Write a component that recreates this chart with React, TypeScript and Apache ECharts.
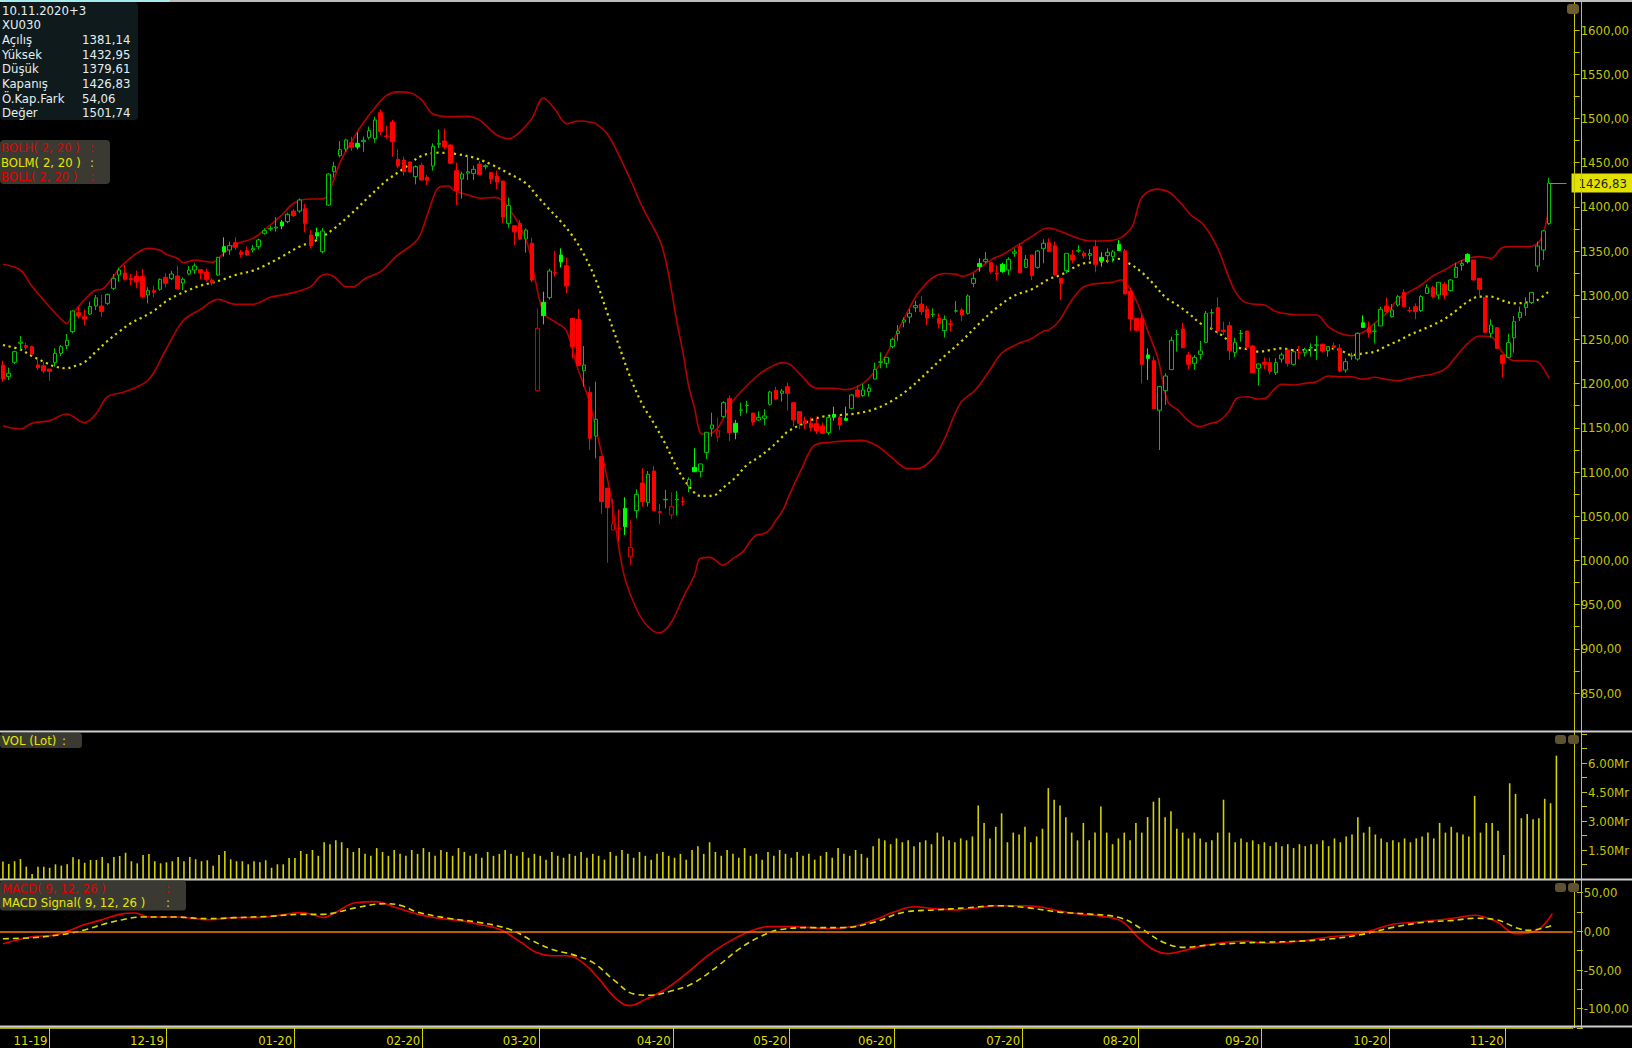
import React, { useEffect, useRef } from 'react';
import * as echarts from 'echarts';

// ---------- DATA ----------
const opens = [
1221.0,1207.9,1224.1,1245.5,1243.0,1241.8,1221.1,1220.3,1216.5,1223.7,
1234.3,1242.9,1258.8,1280.3,1275.7,1278.7,1287.8,1287.8,1290.8,1307.8,
1322.9,1325.1,1319.0,1321.4,1321.4,1300.2,1305.1,1306.7,1320.2,1319.1,
1321.7,1313.8,1324.0,1328.5,1328.9,1326.3,1317.2,1322.9,1354.9,1351.1,
1359.4,1348.5,1350.4,1351.1,1354.9,1370.0,1374.8,1376.0,1382.8,1383.2,
1395.2,1395.2,1397.9,1368.1,1370.7,1349.2,1402.0,1439.7,1457.8,1465.4,
1472.5,1471.8,1473.7,1478.6,1477.1,1506.5,1480.0,1495.9,1453.7,1452.9,
1450.7,1434.1,1446.9,1433.3,1446.1,1470.7,1474.4,1469.9,1440.9,1431.4,
1438.2,1437.8,1448.4,1445.4,1438.6,1434.8,1429.2,1381.3,1378.6,1381.3,
1363.6,1358.7,1192.0,1291.9,1297.2,1325.5,1345.5,1333.4,1273.8,1272.7,
1214.6,1190.1,1140.7,1117.4,1081.5,1034.4,1036.7,1058.9,1004.2,1056.3,
1087.6,1065.7,1101.1,1055.0,1068.6,1051.4,1068.6,1066.6,1084.2,1105.3,
1100.4,1121.9,1149.0,1140.0,1162.6,1183.0,1155.1,1170.0,1175.2,1166.7,
1158.8,1160.7,1176.6,1192.4,1189.0,1196.5,1178.4,1168.3,1158.1,1155.1,
1154.7,1152.0,1144.5,1165.2,1161.9,1160.7,1172.0,1192.8,1186.4,1190.9,
1205.2,1224.0,1222.9,1241.8,1256.5,1269.7,1275.3,1285.9,1290.0,1284.4,
1278.2,1273.8,1259.9,1267.5,1282.0,1283.3,1279.5,1313.4,1336.0,1337.9,
1336.8,1325.1,1334.9,1328.5,1347.4,1354.9,1331.5,1345.5,1331.5,1353.0,
1359.4,1356.0,1319.1,1327.8,1345.5,1350.0,1347.7,1345.1,1354.9,1342.8,
1344.7,1343.6,1357.5,1350.0,1304.7,1273.8,1273.8,1232.4,1225.9,1169.8,
1192.0,1215.8,1255.5,1261.8,1232.4,1222.9,1233.1,1246.7,1280.0,1285.9,
1260.6,1265.5,1235.0,1256.5,1259.5,1242.5,1217.3,1224.1,1223.7,1212.4,
1227.8,1238.0,1221.8,1235.6,1235.0,1240.4,1243.4,1244.4,1237.3,1242.9,
1239.9,1215.4,1231.4,1227.8,1268.9,1262.5,1259.1,1265.2,1287.8,1275.7,
1288.9,1303.2,1282.9,1287.0,1282.5,1302.1,1308.5,1300.2,1312.3,1305.1,
1320.2,1333.8,1346.2,1339.8,1319.1,1297.2,1256.9,1263.3,1232.4,1229.7,
1251.9,1274.6,1285.9,1291.9,1333.0,1351.1,1381.14
];
const highs = [
1226.0,1218.0,1237.3,1253.9,1246.3,1243.0,1227.5,1224.8,1216.5,1239.9,
1243.7,1256.1,1283.0,1287.1,1284.0,1292.7,1300.3,1300.3,1302.0,1324.0,
1331.2,1334.2,1324.0,1327.8,1329.7,1308.9,1310.8,1319.0,1324.8,1327.4,
1333.0,1320.2,1333.0,1336.1,1328.9,1330.0,1319.1,1343.5,1365.5,1360.6,
1365.5,1351.1,1354.9,1356.8,1364.0,1375.7,1378.3,1388.1,1385.0,1393.3,
1397.6,1409.5,1403.2,1373.7,1376.4,1376.0,1438.0,1451.0,1474.4,1477.0,
1479.3,1484.2,1479.3,1490.6,1502.0,1510.2,1491.8,1498.2,1465.0,1456.7,
1451.0,1446.9,1449.9,1436.0,1471.8,1487.6,1488.4,1470.5,1449.9,1439.7,
1458.6,1446.5,1451.8,1448.0,1438.6,1440.9,1429.2,1410.3,1378.6,1385.0,
1375.6,1365.0,1285.1,1304.0,1330.0,1350.0,1353.0,1342.8,1273.8,1284.4,
1242.5,1196.5,1202.2,1117.4,1081.5,1069.8,1057.8,1071.4,1045.7,1080.4,
1104.2,1101.1,1106.8,1063.8,1079.7,1077.0,1078.5,1072.1,1094.0,1126.8,
1109.1,1144.9,1167.1,1161.9,1180.0,1186.7,1158.9,1178.4,1180.7,1166.7,
1168.6,1170.9,1192.0,1196.5,1193.9,1201.0,1178.4,1168.3,1162.6,1161.9,
1162.6,1155.8,1163.4,1173.9,1163.7,1173.9,1188.0,1198.4,1199.6,1199.6,
1223.7,1235.4,1229.7,1252.0,1266.3,1275.0,1284.4,1293.8,1299.1,1288.2,
1285.2,1279.5,1277.2,1272.7,1293.4,1285.9,1301.0,1324.7,1341.7,1348.9,
1336.8,1334.2,1336.8,1342.8,1353.0,1358.7,1345.5,1345.5,1351.0,1363.2,
1364.3,1360.6,1319.1,1347.4,1351.1,1356.8,1350.0,1352.3,1362.5,1348.5,
1353.0,1351.1,1362.5,1352.3,1308.5,1273.8,1277.6,1239.9,1230.5,1196.9,
1211.6,1253.1,1260.6,1268.9,1236.1,1232.4,1248.2,1282.1,1284.4,1297.6,
1270.1,1270.1,1252.0,1260.6,1259.5,1243.7,1222.9,1229.7,1229.3,1228.6,
1235.0,1239.9,1239.1,1242.5,1240.6,1245.5,1254.2,1245.6,1241.8,1246.3,
1244.8,1228.6,1235.0,1258.0,1277.2,1270.1,1268.2,1287.0,1297.6,1290.0,
1300.0,1307.0,1287.0,1290.8,1300.0,1312.3,1310.4,1314.6,1314.6,1318.0,
1336.8,1339.8,1347.4,1339.8,1319.1,1297.2,1272.7,1263.3,1232.4,1256.1,
1276.5,1287.0,1297.6,1303.2,1360.6,1373.7,1432.95
];
const lows = [
1202.0,1204.1,1222.2,1238.0,1238.0,1232.0,1215.4,1211.6,1203.3,1219.2,
1231.2,1238.8,1257.0,1273.8,1265.6,1277.6,1283.3,1275.7,1289.0,1305.9,
1315.3,1316.5,1311.2,1307.8,1296.5,1290.8,1297.6,1305.0,1308.9,1317.2,
1307.0,1305.9,1322.9,1324.0,1318.0,1315.3,1310.8,1322.0,1343.6,1345.5,
1351.1,1342.5,1344.4,1348.1,1352.0,1368.5,1372.6,1371.9,1374.5,1381.3,
1388.5,1393.3,1371.1,1353.0,1363.2,1347.3,1401.0,1433.3,1455.9,1462.0,
1463.1,1465.0,1462.4,1476.3,1472.5,1481.2,1477.1,1456.7,1443.5,1435.2,
1438.6,1425.4,1429.5,1424.6,1440.9,1466.1,1465.4,1448.4,1402.0,1409.2,
1430.3,1430.3,1436.0,1442.4,1425.8,1419.7,1381.3,1376.4,1356.8,1362.4,
1348.1,1315.0,1192.0,1267.0,1295.0,1321.0,1331.2,1302.1,1228.6,1220.3,
1196.5,1124.9,1115.5,1052.5,997.4,1034.4,1021.2,1028.7,994.8,1047.6,
1060.8,1060.8,1056.3,1040.8,1058.9,1046.5,1051.0,1061.5,1077.0,1100.4,
1094.0,1114.3,1140.0,1134.3,1161.0,1135.1,1137.0,1163.4,1166.4,1152.8,
1158.0,1153.2,1175.0,1181.4,1179.6,1169.4,1151.3,1148.3,1148.3,1146.4,
1143.0,1143.0,1141.9,1158.1,1147.5,1158.1,1171.0,1185.2,1185.2,1185.2,
1204.8,1217.3,1218.0,1240.0,1248.2,1263.7,1268.2,1280.6,1277.6,1266.3,
1275.0,1262.5,1252.3,1258.8,1280.3,1270.8,1278.0,1308.9,1326.6,1336.1,
1324.7,1316.4,1325.5,1322.9,1343.6,1325.5,1331.5,1317.2,1330.0,1336.1,
1349.2,1322.9,1294.6,1324.7,1336.1,1348.1,1341.7,1339.8,1325.9,1332.3,
1336.1,1337.2,1350.0,1301.4,1259.5,1258.8,1200.3,1204.1,1171.7,1124.9,
1175.8,1215.8,1236.1,1240.6,1216.5,1215.4,1227.4,1246.7,1261.4,1255.7,
1255.0,1226.7,1229.7,1247.4,1239.1,1212.4,1197.7,1216.5,1210.5,1209.7,
1223.7,1219.2,1220.3,1227.8,1230.5,1230.5,1226.7,1235.0,1230.5,1238.8,
1213.1,1212.4,1226.7,1226.0,1263.6,1252.3,1245.6,1265.2,1280.6,1274.6,
1287.0,1287.0,1280.2,1272.7,1281.0,1301.4,1296.5,1295.3,1295.3,1304.0,
1320.2,1327.8,1336.0,1316.4,1297.6,1256.9,1251.9,1239.1,1207.1,1229.7,
1235.0,1270.8,1276.9,1290.0,1326.6,1339.8,1379.61
];
const closes = [
1205.2,1211.7,1236.2,1246.9,1241.0,1233.5,1218.0,1214.3,1213.9,1234.3,
1241.8,1249.0,1282.1,1276.5,1273.1,1287.1,1296.9,1281.4,1301.0,1319.1,
1328.5,1318.0,1317.6,1315.0,1298.4,1305.1,1303.3,1318.0,1313.4,1324.0,
1307.0,1318.0,1328.5,1333.0,1325.5,1318.0,1314.2,1342.8,1348.9,1356.0,
1354.2,1346.2,1345.5,1353.0,1362.5,1373.0,1375.6,1377.0,1378.3,1391.5,
1390.0,1407.7,1381.3,1356.0,1367.0,1372.6,1437.1,1445.8,1464.6,1475.5,
1467.3,1467.6,1475.2,1486.1,1498.2,1485.0,1479.7,1473.7,1446.1,1439.7,
1439.4,1445.4,1430.3,1430.0,1468.4,1471.8,1468.0,1449.2,1418.2,1437.1,
1439.7,1442.4,1436.3,1446.5,1431.4,1428.0,1388.5,1401.6,1371.9,1363.6,
1373.7,1317.2,1262.5,1276.9,1327.4,1324.7,1337.6,1310.4,1241.8,1220.3,
1221.0,1138.1,1159.6,1066.4,1059.7,1041.2,1036.3,1038.2,1014.8,1074.7,
1066.4,1097.4,1056.3,1054.4,1069.1,1060.8,1069.1,1066.0,1091.7,1100.4,
1109.1,1144.9,1153.2,1146.8,1178.4,1144.5,1145.0,1170.1,1175.5,1156.6,
1161.8,1163.4,1190.5,1182.6,1191.6,1189.0,1158.8,1155.1,1154.9,1150.2,
1146.4,1143.7,1161.5,1161.9,1153.2,1158.5,1187.1,1185.2,1192.8,1195.0,
1216.2,1224.6,1229.7,1250.1,1259.5,1272.0,1279.5,1288.2,1281.4,1274.2,
1278.4,1268.2,1272.7,1267.0,1282.4,1277.6,1299.1,1319.1,1332.3,1340.6,
1326.6,1324.0,1326.6,1340.6,1348.9,1325.5,1340.6,1322.1,1350.0,1358.7,
1349.2,1322.9,1313.4,1347.4,1339.8,1350.3,1344.4,1347.0,1334.9,1338.7,
1348.5,1349.0,1350.4,1301.4,1273.1,1260.3,1221.8,1228.6,1171.7,1196.9,
1208.6,1249.0,1255.8,1240.6,1221.8,1229.7,1236.9,1279.5,1280.3,1259.5,
1258.8,1237.3,1246.7,1256.9,1241.8,1212.4,1222.2,1221.9,1213.5,1223.7,
1232.4,1222.9,1236.1,1235.3,1238.0,1240.8,1243.7,1236.9,1241.8,1241.0,
1214.3,1224.8,1231.6,1256.9,1263.6,1257.6,1259.3,1284.0,1281.4,1283.3,
1298.4,1287.0,1282.5,1281.4,1298.4,1308.5,1298.4,1314.6,1300.2,1317.2,
1331.5,1336.0,1337.9,1317.2,1306.6,1258.0,1266.3,1239.9,1222.9,1246.3,
1270.1,1280.6,1290.8,1303.2,1355.7,1372.77,1426.83
];
// volume in "Mr"
const volumes = [
0.9,0.78,0.92,1.03,0.64,0.26,0.64,0.64,0.58,0.76,
0.69,0.76,1.12,1.02,0.84,0.98,0.98,1.14,0.81,1.14,
1.19,1.36,0.92,0.81,1.24,1.29,0.92,0.81,0.86,0.92,
1.14,0.92,1.14,1.02,0.92,0.97,0.69,1.24,1.45,1.02,
0.92,0.92,0.76,0.92,0.86,0.97,0.58,0.76,0.76,1.09,
1.09,1.45,1.3,1.5,1.2,1.9,1.8,2.0,1.9,1.6,
1.4,1.6,1.3,1.2,1.6,1.4,1.2,1.5,1.3,1.2,
1.5,1.3,1.6,1.4,1.2,1.5,1.4,1.2,1.6,1.4,
1.2,1.3,1.1,1.4,1.2,1.3,1.5,1.3,1.2,1.4,
1.1,1.3,1.2,1.0,1.4,1.2,1.1,1.3,1.2,1.4,
1.1,1.3,1.2,1.0,1.4,1.2,1.5,1.3,1.1,1.4,
1.2,1.0,1.3,1.4,1.2,1.1,1.3,1.0,1.5,1.7,
1.3,1.9,1.4,1.2,1.5,1.3,1.1,1.6,1.2,1.3,
1.0,1.4,1.2,1.5,1.3,1.1,1.4,1.2,1.3,1.0,
1.2,1.4,1.1,1.6,1.3,1.2,1.5,1.3,1.1,1.7,
2.1,2.0,1.8,2.1,1.9,2.0,1.7,1.9,2.0,1.8,
2.4,2.2,2.0,1.9,2.1,2.0,2.2,3.8,2.9,2.1,
2.7,3.4,1.9,2.4,2.3,2.7,1.9,2.2,2.6,4.7,
4.1,3.8,3.2,2.4,2.0,2.9,2.0,2.4,3.75,2.4,
1.8,2.1,2.4,2.0,2.9,2.4,3.2,4.0,4.2,3.2,
3.5,2.6,2.4,2.1,2.4,2.1,1.9,2.0,2.4,4.1,
2.4,1.9,2.1,1.9,2.0,1.8,1.9,1.7,1.9,1.7,
1.8,1.6,1.8,1.7,1.8,1.8,2.0,1.7,2.1,1.9,
2.2,2.3,3.2,2.4,2.7,2.3,2.1,1.9,2.0,1.9,
2.1,1.9,2.1,2.2,2.4,2.1,2.9,2.4,2.7,2.4,
2.3,2.2,4.3,2.4,2.9,2.9,2.5,1.24,4.95,4.40,
3.14,3.36,3.09,3.14,4.15,3.92,6.38
];
// Bollinger bands, [candle index, value]
const bollUpper: [number, number][] = [
[0,1335],[3,1328.5],[5,1310],[8,1287],[10,1273],[11,1268],[12,1279],[14,1294.6],[16,1305.9],[17,1306.7],[19,1321],[20,1330.4],
[23,1347.4],[25,1353],[27,1351],[28,1346.6],[30,1341.7],[31,1336.8],[33,1339.8],[36,1337.2],[38,1347.4],[40,1357.6],[43,1364.3],[45,1373.8],
[48,1391],[50,1404],[52,1408.5],[55,1409],[56,1415],[58,1450],[60,1474],[62,1495],[64,1512],[66,1526],[68,1530],[70,1529],[72,1521],
[74,1505],[77,1502],[80,1502.5],[82,1498],[85,1481],[87,1477],[89,1485],[91,1500],[93,1523],[95,1510],[97,1494],[99,1497],[101,1496],
[102,1494],[104,1482],[106,1458],[108,1430],[110,1400],[113,1362],[114,1340],[115,1306],[116,1268],[117,1235],[118,1196.5],[119,1172],
[120,1144],[121,1142.5],[123,1150],[125,1175],[127,1191],[130,1210],[132,1218.5],[134,1223.5],[135,1223],[137,1211.6],[140,1194.7],
[143,1194.7],[145,1193],[147,1196.5],[149,1206],[152,1233],[154,1260],[157,1298],[158,1307],[160,1320],[162,1324.5],[164,1323.6],
[165,1321.5],[167,1326],[170,1340],[172,1346],[174,1354],[177,1366.5],[179,1375],[180,1376],[182,1372],[185,1364.3],[187,1361.3],
[190,1361.5],[192,1364],[193.3,1370],[194.4,1379.4],[195.7,1408],[197,1417],[198.5,1420],[200.5,1417],[202.5,1405],[204.5,1390],
[206.6,1379.4],[209,1353],[210.5,1327],[212,1304],[213.5,1292.7],[215,1290],[217,1289],[219,1281.5],[221.5,1278.4],[224,1277.6],
[226,1277.6],[228,1264.4],[230,1257],[232,1254.2],[234,1258],[236,1268.2],[238,1279.5],[240,1295.3],[242,1304],[244,1311.5],
[246,1321.7],[248,1328.5],[250,1336.1],[252,1341.7],[254,1343.6],[256,1341.7],[258,1353.8],[260,1354.9],[262,1354.9],[264,1358.7],
[265,1370],[266,1400]
];
const bollMiddle: [number, number][] = [
[0,1243.7],[3,1238.5],[5,1231.2],[7,1224.8],[9,1219.2],[11,1217.3],[12,1219],[14,1224.1],[16,1236.1],[18,1248.2],[20,1258.8],
[22,1268.2],[24,1275],[26,1282.5],[28,1292.7],[30,1300.2],[32,1305.9],[34,1310.8],[36,1314.2],[38,1318],[40,1322.9],[43,1327.8],
[45,1333.4],[48,1343.6],[51,1354.9],[54,1362.4],[57,1375.6],[60,1392.6],[63,1411.5],[66,1429.6],[69,1443.5],[72,1457.5],[75,1461.2],
[78,1459.7],[81,1455.6],[84,1448],[87,1437.8],[90,1426.5],[92,1411.5],[94,1397.1],[96,1383.2],[98,1367],[100,1345.5],[102,1317.2],
[104,1279.5],[106,1242.5],[108,1206],[110,1176.6],[112,1155.1],[114,1131.3],[116,1104.2],[118,1084.2],[120,1072.9],[122,1072.9],
[124,1082.7],[126,1093.6],[128,1108],[130,1116.6],[132,1126.8],[134,1139.2],[135,1145.6],[138,1155.8],[141,1162.6],[144,1164.5],
[147,1166.4],[150,1171.3],[153,1180.7],[156,1194.7],[159,1212.7],[162,1231.2],[165,1248.6],[168,1268.2],[171,1285.9],[174,1299.5],
[177,1306.6],[180,1318.3],[182,1322.9],[184,1330.4],[186,1336.1],[188,1337.2],[190,1338.7],[192,1341],[194,1334.9],[196,1325.5],
[198,1312.3],[200,1297.6],[202,1289],[204,1279.5],[206,1268.2],[208,1261.8],[210,1253.1],[212,1241.8],[214,1239.1],[216,1236.1],
[218,1238],[220,1239.9],[222,1238],[224,1238],[226,1238],[228,1239.9],[230,1238],[232,1232.4],[234,1234.2],[236,1236.1],[238,1242.5],
[240,1248.2],[242,1255],[244,1260.6],[246,1266.3],[248,1273.1],[250,1282.5],[252,1292.7],[254,1298.4],[256,1298.4],[258,1293.8],
[260,1290.8],[262,1291.6],[264,1294.6],[266,1304.8]
];
const bollLower: [number, number][] = [
[0,1152.4],[3,1148.6],[5,1155.1],[8,1158.1],[11,1165.6],[14,1155.8],[16,1165.6],[18,1185.2],[21,1190.9],[25,1204.1],[28,1238],
[31,1271.2],[34,1284],[37,1295.3],[40,1289.7],[43,1289.7],[46,1297.6],[50,1302.9],[53,1310],[54.5,1320.9],[55.6,1324],[57,1320.9],
[59,1309.6],[60.2,1309.6],[62.4,1319.1],[65,1326.6],[67.6,1343.6],[70.7,1358.7],[71.8,1368.1],[73.3,1396.4],[75,1422],[76.7,1423.5],
[77.5,1419],[80,1413.3],[82.4,1409.6],[84.7,1410.7],[85.8,1407.7],[87.2,1396.4],[88.7,1381.3],[90.4,1354.9],[91.5,1320],[93.1,1279.5],
[95.4,1268.2],[96.9,1260.6],[98.8,1219.2],[100.8,1181.5],[102.6,1132.4],[104.5,1075.9],[106.8,985],[109,945],[111,925],[113,918],
[115,930],[117,958],[119,983.5],[119.9,1002],[121.6,1003.4],[123.9,994.8],[125.6,1002],[127.3,1009.9],[128.5,1021.2],[129.6,1028.7],
[130.7,1029.9],[131.9,1034.4],[133,1045.7],[134.2,1057],[135.3,1074],[137.5,1105],[139.6,1130],[142.3,1133.6],[147.6,1135.8],
[150.3,1130],[153,1116],[155.6,1104],[157.4,1104],[160.1,1116],[161.9,1136.2],[164.7,1177.7],[167.3,1192.8],[169.8,1215.4],
[171.8,1234.3],[174.4,1244.4],[176.7,1250.1],[178.9,1258.8],[180.1,1261.4],[181.6,1270.1],[183.9,1294.6],[185.6,1307.8],[187.3,1312.3],
[190.7,1314.6],[192.4,1317.2],[193.5,1311.6],[195.3,1288.9],[197,1258.8],[198.7,1228.6],[200.4,1179.6],[202.1,1170.2],[203.8,1158.8],
[205.8,1151.3],[207.8,1155.1],[209.2,1157.7],[210.9,1168.3],[212.3,1183.4],[214.1,1185.2],[215.8,1182.6],[217.2,1183.4],[218.6,1192.8],
[220,1199.2],[222,1198.4],[224,1200.3],[226,1202.2],[228,1208.6],[230,1207.8],[232,1207.8],[234,1204.8],[236,1207.1],[238,1204.8],
[240,1203.3],[242,1206],[244,1208.6],[246,1210.9],[248,1216.1],[250,1230.5],[252,1245.6],[254,1253.9],[256,1253.1],[258,1235],
[260,1225.9],[262,1225.9],[264,1224.8],[265,1217.3],[266,1206]
];
// MACD (9,12,26) and its signal, [candle index, value]
const macdLine: [number, number][] = [
[0,-15.9],[3.4,-9.5],[5.6,-6.5],[8.5,-5.2],[11.5,1.3],[13.7,7.8],[16.6,14.2],[20,22],[22.7,23.7],[25.1,18.5],[29.6,18.5],[35.4,15.1],
[39.8,17.7],[43.2,17.7],[47.3,20.7],[51.3,24.2],[53,22],[55,18],[57,24],[60.5,37],[64,38.5],[67.6,30.4],[71.2,22.3],[74.7,16.9],
[78.3,14.2],[81.8,8.9],[85.4,2.2],[88.9,-14],[91.6,-27.4],[94.3,-31.5],[96.9,-31.5],[99.6,-40.8],[102.3,-61.1],[105,-85.3],[107.6,-96],
[110.3,-88],[113.8,-74.5],[117.4,-54.3],[121,-31.5],[124.5,-14],[128.1,-0.5],[131.6,6.2],[135.2,6.2],[138.8,4.8],[142.3,3.5],[145.9,6.2],
[149.4,14.2],[153,24.9],[156.5,31.8],[160.1,29.1],[163.7,27.7],[167.2,30.4],[170.8,33.1],[174.3,33.1],[177.9,31.8],[181.4,26.4],
[185,22.3],[188.6,19.6],[192.1,12.9],[194.8,-7.2],[197.5,-23.4],[200.1,-28.8],[202.8,-24.8],[206.4,-18.1],[209.9,-14],[213.5,-12.7],
[217,-15.4],[220.6,-14],[224.1,-11.4],[227.7,-7.2],[231.3,-4.5],[234.8,0.8],[238.4,8.9],[241.9,11.5],[245.5,14.2],[249,16.9],
[252.6,20.9],[256.3,13],[259.8,-3],[263.3,1],[266,22.8]
];
const macdSignal: [number, number][] = [
[0,-9.5],[5.1,-8.2],[10.3,-3.9],[14.2,2.2],[17.1,9],[20.5,15.1],[23.9,18.5],[29.6,18.5],[35.3,16.4],[39.9,17.7],[45.6,19.4],[51.3,22],
[55,22],[57,24],[60.5,30.4],[65.8,35.8],[68.5,33],[71.2,24.9],[76.5,16.9],[81.8,11.5],[87.2,2.2],[90.7,-11.4],[94.3,-23.4],[97.8,-30.1],
[101.4,-40.8],[105,-63.7],[108.5,-81.3],[111.2,-82.6],[114.7,-77.2],[118.3,-67.8],[122.7,-45],[126.3,-23.4],[129.9,-7.2],[133.4,2.2],
[138.8,4.8],[144.1,4.8],[149.4,11.5],[154.8,24.9],[160.1,27.7],[165.4,30.4],[170.8,33.1],[176.1,30.4],[181.4,24.9],[186.8,22.3],
[192.1,16.9],[195.7,2.2],[199.2,-14],[202.8,-20.7],[206.4,-18.1],[211.7,-15.4],[217,-14],[222.4,-12.7],[227.7,-10],[233,-4.5],
[238.4,4.8],[243.7,11.5],[249,14.2],[252.6,16.9],[256.3,15.1],[259.8,4.8],[262,1.3],[266,7.8]
];
const monthStarts: [number, string][] = [
[8,'11-19'],[28,'12-19'],[50,'01-20'],[72,'02-20'],[92,'03-20'],[115,'04-20'],[135,'05-20'],
[153,'06-20'],[175,'07-20'],[195,'08-20'],[216,'09-20'],[238,'10-20'],[258,'11-20']
];
const infoLabels = ['Açılış','Yüksek','Düşük','Kapanış','Ö.Kap.Fark','Değer'];
const infoDate = '10.11.2020+3';
const infoSymbol = 'XU030';
const infoValue = 1501.74;

// ---------- COMPONENT ----------
const NARROW = "'Liberation Sans Narrow','DejaVu Sans Condensed','Arial Narrow',sans-serif";
const fmtC = (v: number) => v.toFixed(2).replace('.', ',');

export default function App() {
  const ref = useRef<HTMLDivElement>(null);
  useEffect(() => {
    const chart = echarts.init(ref.current!, null, { renderer: 'svg' });
    const N = 270;
    const S = 5.851;
    const LEFT = -S / 2;
    const W = N * S;
    const cats = Array.from({ length: N }, (_, i) => String(i));
    const monthMap = new Map<number, string>(monthStarts);

    const GREEN = '#00c400', GREEN_F = '#00ff00', RED = '#ff0000', RED_H = '#d00000';
    const candles = opens.map((o, i) => {
      const c = closes[i];
      const up = i === 0 ? false : c >= closes[i - 1];
      const hollow = c >= o;
      const col = up ? (hollow ? GREEN : GREEN_F) : (hollow ? RED_H : RED);
      const fill = hollow ? '#000000' : col;
      return {
        value: [o, c, lows[i], highs[i]],
        itemStyle: { color: fill, color0: fill, borderColor: col, borderColor0: col },
      };
    });
    const last = closes.length - 1;
    const diff = closes[last] - closes[last - 1];
    const infoVals = [opens[last], highs[last], lows[last], closes[last], diff, infoValue];

    const yLabel = { color: '#c4c400', fontSize: 13, fontFamily: NARROW, margin: 7 };
    const yTick = { show: true, length: 6, lineStyle: { color: '#c4c400', width: 1 } };
    const yLine = { show: false, onZero: false };

    const txt = (x: number, y: number, text: string, fill: string, extra: any = {}) => ({
      type: 'text', x, y, z: 100,
      style: { text, fill, font: `13px ${NARROW}`, textVerticalAlign: 'middle', ...extra },
    });
    const rect = (x: number, y: number, w: number, h: number, fill: string, r = 0, z = 99) => ({
      type: 'rect', z, shape: { x, y, width: w, height: h, r }, style: { fill },
    });
    const vline = (x: number, y1: number, y2: number, stroke: string) => ({
      type: 'line', z: 98, shape: { x1: x, y1, x2: x, y2 }, style: { stroke, lineWidth: 1 },
    });

    const graphic: any[] = [
      rect(0, 0, 1632, 2, '#bdbdbd'),
      rect(0, 0, 170, 2, '#a6ecec'),
      rect(0, 730.5, 1632, 2, '#cdcdcd'),
      rect(0, 878.5, 1632, 2, '#cdcdcd'),
      rect(0, 1025.5, 1632, 2, '#cdcdcd'),
      vline(1574.5, 0, 1028, '#c8c800'),
      vline(1581.5, 0, 1028, '#c8c800'),
      // info box
      rect(0, 2, 138, 118, '#0e1a1c', 4),
      txt(2, 10, infoDate, '#e6eef0'),
      txt(2, 24.7, infoSymbol, '#e6eef0'),
      ...infoLabels.map((l, k) => txt(2, 39.4 + 14.7 * k, l, '#e6eef0')),
      ...infoVals.map((v, k) => txt(82, 39.4 + 14.7 * k, fmtC(v), '#e6eef0')),
      // bollinger legend
      rect(0, 140, 110, 44, '#3a3a32', 4),
      txt(1, 147, 'BOLH( 2, 20 )', '#e00000'), txt(90, 147, ':', '#e00000'),
      txt(1, 162, 'BOLM( 2, 20 )', '#e6e600'), txt(90, 162, ':', '#e6e600'),
      txt(1, 176, 'BOLL( 2, 20 )', '#e00000'), txt(90, 176, ':', '#e00000'),
      // volume legend
      rect(0, 733, 82, 15, '#3a3a32', 3),
      txt(2, 740.5, 'VOL (Lot)', '#e6e600'), txt(62, 740.5, ':', '#e6e600'),
      // macd legend
      rect(0, 880.5, 186, 30, '#3a3a32', 3),
      txt(2, 888, 'MACD( 9, 12, 26 )', '#e00000'), txt(166, 888, ':', '#e00000'),
      txt(2, 902.5, 'MACD Signal( 9, 12, 26 )', '#e6e600'), txt(166, 902.5, ':', '#e6e600'),
      // small panel buttons
      rect(1567, 4, 12, 10, '#6e5e2e', 3),
      rect(1555, 735, 11, 9, '#5e5230', 3), rect(1568, 735, 11, 9, '#5e5230', 3),
      rect(1555, 883, 11, 9, '#5e5230', 3), rect(1568, 883, 11, 9, '#5e5230', 3),
    ];

    const option: any = {
      backgroundColor: '#000000',
      animation: false,
      graphic,
      grid: [
        { left: LEFT, top: 30, width: W, height: 663 },
        { left: LEFT, top: 734, width: W, height: 145 },
        { left: LEFT, top: 892.7, width: W, height: 135.3 },
      ],
      xAxis: [
        { type: 'category', gridIndex: 0, data: cats, show: false, boundaryGap: true },
        { type: 'value', gridIndex: 0, min: -0.5, max: N - 0.5, show: false },
        { type: 'category', gridIndex: 1, data: cats, show: false, boundaryGap: true },
        {
          type: 'category', gridIndex: 2, data: cats, boundaryGap: true, position: 'bottom',
          axisLine: { show: true, onZero: false, lineStyle: { color: '#d4d400', width: 1.5 } },
          axisTick: {
            show: true, alignWithLabel: true, length: 20,
            interval: (i: number) => monthMap.has(i),
            lineStyle: { color: '#d4d400', width: 1 },
          },
          axisLabel: {
            show: true, interval: (i: number) => monthMap.has(i),
            formatter: (_v: string, i: number) => monthMap.get(i) ?? '',
            align: 'right', verticalAlign: 'top', margin: 6, padding: [0, 2, 0, 0],
            color: '#dede00', fontSize: 13, fontFamily: NARROW,
          },
          splitLine: { show: false },
        },
        { type: 'value', gridIndex: 2, min: -0.5, max: N - 0.5, show: false },
      ],
      yAxis: [
        {
          type: 'value', gridIndex: 0, position: 'right', offset: 4.2, min: 850, max: 1600, interval: 25,
          axisLine: yLine, axisTick: yTick, splitLine: { show: false },
          axisLabel: { ...yLabel, formatter: (v: number) => (Math.round(v) % 50 === 0 ? fmtC(v) : '') },
        },
        {
          type: 'value', gridIndex: 1, position: 'right', offset: 4.2, min: 0, max: 7.5, interval: 0.75,
          axisLine: yLine, axisTick: yTick, splitLine: { show: false },
          axisLabel: {
            ...yLabel,
            formatter: (v: number) => {
              const k = Math.round(v / 0.75);
              return k % 2 === 0 && k > 0 && k < 10 ? v.toFixed(2) + 'Mr' : '';
            },
          },
        },
        {
          type: 'value', gridIndex: 2, position: 'right', offset: 4.2, min: -125, max: 50, interval: 25,
          axisLine: yLine, axisTick: yTick, splitLine: { show: false },
          axisLabel: {
            ...yLabel,
            formatter: (v: number) => (Math.round(v) % 50 === 0 && v > -120 ? fmtC(v) : ''),
          },
        },
      ],
      series: [
        {
          name: 'BOLH', type: 'line', xAxisIndex: 1, yAxisIndex: 0, data: bollUpper, smooth: 0.35,
          showSymbol: false, z: 2, lineStyle: { color: '#b40000', width: 1.6 },
        },
        {
          name: 'BOLL', type: 'line', xAxisIndex: 1, yAxisIndex: 0, data: bollLower, smooth: 0.35,
          showSymbol: false, z: 2, lineStyle: { color: '#b40000', width: 1.6 },
        },
        {
          name: 'BOLM', type: 'line', xAxisIndex: 1, yAxisIndex: 0, data: bollMiddle, smooth: 0.35,
          showSymbol: false, z: 2, lineStyle: { color: '#d6d600', width: 2.2, type: [2.2, 3.65] },
        },
        {
          name: 'XU030', type: 'candlestick', xAxisIndex: 0, yAxisIndex: 0, data: candles,
          barWidth: 4, clip: false, z: 3,
          itemStyle: { borderWidth: 1 },
          markLine: {
            silent: true, symbol: ['none', 'none'], animation: false,
            lineStyle: { color: '#00e000', width: 1, type: 'solid' },
            label: {
              show: true, position: 'end', distance: 5, formatter: fmtC(closes[last]),
              backgroundColor: '#e2e200', color: '#1e1e1e', fontSize: 13, fontFamily: NARROW,
              padding: [3, 8, 3, 7],
            },
            data: [[{ coord: [last, closes[last]] }, { coord: [N - 1, closes[last]] }]],
          },
        },
        {
          name: 'VOL', type: 'bar', xAxisIndex: 2, yAxisIndex: 1, data: volumes, barWidth: 1.6,
          itemStyle: { color: '#d2d200' },
        },
        {
          name: 'MACD', type: 'line', xAxisIndex: 4, yAxisIndex: 2, data: macdLine, smooth: 0.4,
          showSymbol: false, z: 3, lineStyle: { color: '#e00000', width: 1.6 },
          markLine: {
            silent: true, symbol: ['none', 'none'], animation: false, label: { show: false },
            lineStyle: { color: '#ff7a00', width: 1.5, type: 'solid' },
            data: [{ yAxis: 0 }],
          },
        },
        {
          name: 'MACD Signal', type: 'line', xAxisIndex: 4, yAxisIndex: 2, data: macdSignal, smooth: 0.4,
          showSymbol: false, z: 4, lineStyle: { color: '#d8d800', width: 1.6, type: [6, 4] },
        },
      ],
    };
    chart.setOption(option);
    return () => chart.dispose();
  }, []);
  return (
    <div
      ref={ref}
      style={{ position: 'fixed', left: 0, top: 0, width: 1632, height: 1048, background: '#000' }}
    />
  );
}
